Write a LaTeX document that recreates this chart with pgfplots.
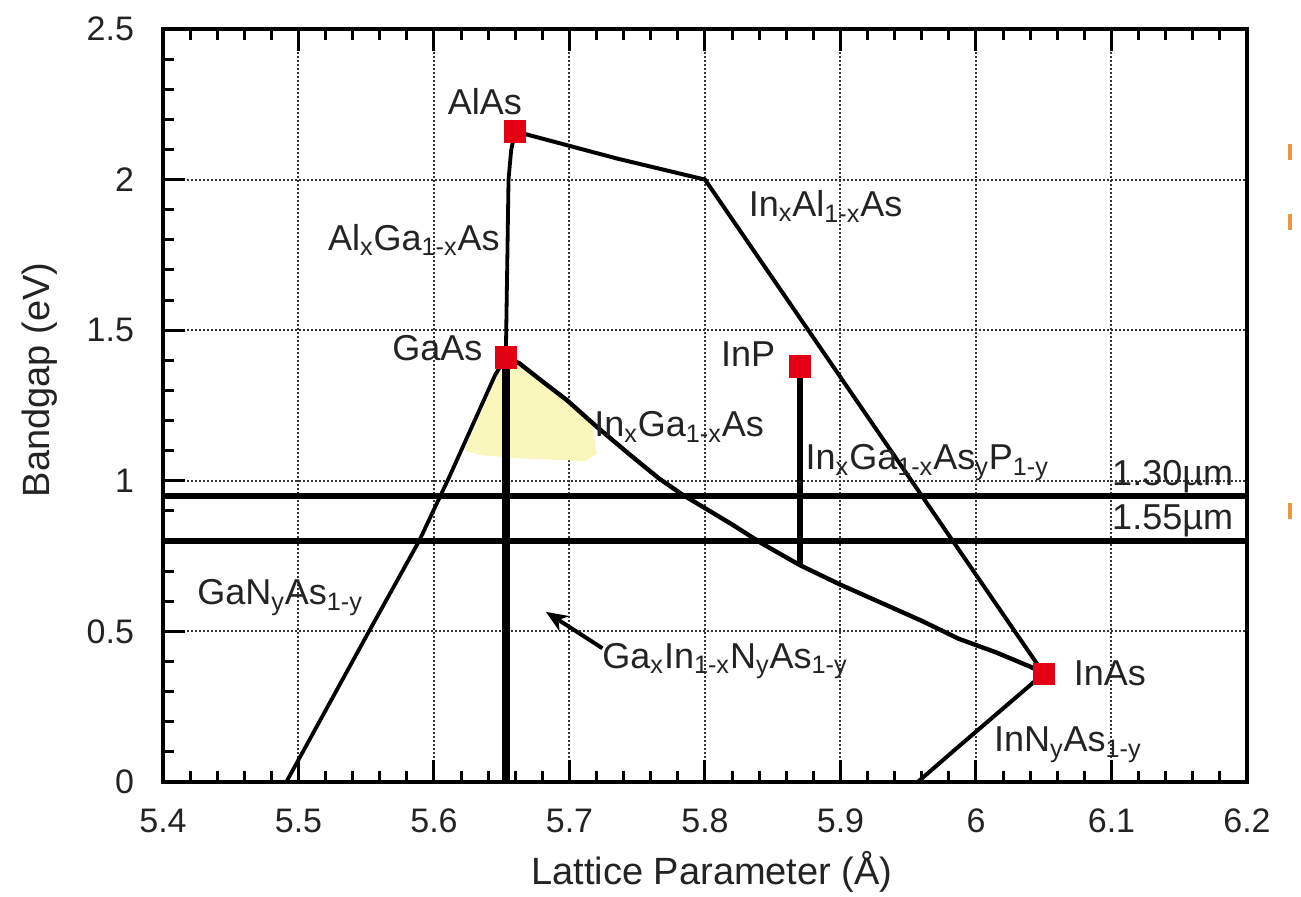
\documentclass[border=0pt]{standalone}
\usepackage{pgfplots}
\pgfplotsset{compat=1.18}
\usepackage{fontspec}
\setmainfont{Liberation Sans}
\usetikzlibrary{arrows.meta}
\definecolor{sqred}{RGB}{228,0,18}
\definecolor{paleyel}{RGB}{249,247,188}
\definecolor{txt}{RGB}{35,35,35}
\definecolor{orng}{RGB}{235,150,60}
\newcommand{\ann}{\fontsize{18}{21}\selectfont\color{txt}}
\begin{document}
\begin{tikzpicture}
\path[use as bounding box] (-81.5pt,-57pt) rectangle (569pt,391pt);
\begin{axis}[
  at={(0,0)}, anchor=south west,
  scale only axis, width=542pt, height=376.5pt,
  xmin=5.4, xmax=6.2, ymin=0, ymax=2.5,
  clip=false,
  xtick={5.4,5.5,5.6,5.7,5.8,5.9,6,6.1,6.2},
  ytick={0,0.5,1,1.5,2,2.5},
  minor x tick num=4, minor y tick num=4,
  xtick pos=both, ytick pos=left,
  tick align=inside,
  major tick length=11pt, minor tick length=5.5pt,
  tick style={line width=1.5pt, black},
  axis line style={line width=2.2pt},
  grid=major,
  major grid style={dash pattern=on 1pt off 1pt, line width=1pt, black!80},
  /pgf/number format/assume math mode=true,
  xticklabel style={font=\fontsize{17}{20}\selectfont, text=txt, yshift=-10pt},
  yticklabel style={font=\fontsize{17}{20}\selectfont, text=txt, xshift=-11pt},
  xlabel={Lattice Parameter (Å)},
  ylabel={Bandgap (eV)},
  xlabel style={font=\fontsize{19}{22}\selectfont, text=txt, at={(axis description cs:0.5065,-0.1195)}, anchor=center},
  ylabel style={font=\fontsize{19}{22}\selectfont, text=txt, at={(axis description cs:-0.1135,0.534)}, anchor=center},
]
% yellow region
\addplot[fill=paleyel, draw=none] coordinates {
 (5.653,1.41) (5.648,1.36) (5.625,1.13) (5.623,1.10) (5.635,1.085) (5.66,1.075)
 (5.69,1.07) (5.712,1.065) (5.72,1.09) (5.718,1.15) (5.716,1.20) (5.698,1.268) (5.663,1.39)} -- cycle;
% 1.30 and 1.55 um lines
\addplot[line width=3.3pt] coordinates {(5.4,0.95) (6.2,0.95)};
\addplot[line width=3.3pt] coordinates {(5.4,0.80) (6.2,0.80)};
% GaNAs
\addplot[line width=1.9pt] coordinates {(5.491,0) (5.552,0.5) (5.589,0.80) (5.611,1.01) (5.645,1.35) (5.653,1.41)};
% GaAs vertical
\addplot[line width=4pt] coordinates {(5.653,1.41) (5.653,0)};
% AlGaAs
\addplot[line width=1.9pt] coordinates {(5.66,2.16) (5.657,2.1) (5.655,2.0) (5.654,1.7) (5.653,1.41)};
% InAlAs
\addplot[line width=2pt] coordinates {(5.66,2.16) (5.735,2.07) (5.8,2.0) (6.05,0.36)};
% InGaAs
\addplot[line width=2.2pt] coordinates {(5.653,1.41) (5.663,1.39) (5.68,1.33) (5.698,1.268) (5.72,1.18)
 (5.745,1.085) (5.766,1.008) (5.783,0.955) (5.796,0.92) (5.82,0.855) (5.842,0.792) (5.87,0.72)
 (5.90,0.655) (5.93,0.595) (5.96,0.535) (5.987,0.476) (6.015,0.43) (6.04,0.383) (6.05,0.36)};
% InGaAsP vertical
\addplot[line width=3.3pt] coordinates {(5.87,1.38) (5.87,0.72)};
% InNAs
\addplot[line width=2pt] coordinates {(6.05,0.36) (5.987,0.117) (5.957,0)};
% arrow
\draw[line width=2pt, -{Stealth[length=11pt,width=9pt]}] (axis cs:5.7243,0.444) -- (axis cs:5.6826,0.565);
% binary compounds
\addplot[only marks, mark=square*, mark size=5.3pt, mark options={draw=sqred, fill=sqred}]
 coordinates {(5.66,2.16) (5.653,1.41) (5.87,1.38) (6.05,0.36)};
% faint orange marks outside the frame (slide residue)
\addplot[only marks, mark=|, mark size=4pt, mark options={line width=2pt, draw=orng}]
 coordinates {(6.232,2.09) (6.232,1.86) (6.232,0.90)};
% labels
\node[anchor=base west, font=\ann, inner sep=0pt] at (axis cs:5.610,2.215) {AlAs};
\node[anchor=base west, font=\ann, inner sep=0pt] at (axis cs:5.5215,1.766) {Al\textsubscript{x}Ga\textsubscript{1-x}As};
\node[anchor=base east, font=\ann, inner sep=0pt] at (axis cs:5.636,1.40) {GaAs};
\node[anchor=base east, font=\ann, inner sep=0pt] at (axis cs:5.852,1.378) {InP};
\node[anchor=base west, font=\ann, inner sep=0pt] at (axis cs:5.832,1.877) {In\textsubscript{x}Al\textsubscript{1-x}As};
\node[anchor=base west, font=\ann, inner sep=0pt] at (axis cs:5.718,1.146) {In\textsubscript{x}Ga\textsubscript{1-x}As};
\node[anchor=base west, font=\ann, inner sep=0pt] at (axis cs:5.874,1.036) {In\textsubscript{x}Ga\textsubscript{1-x}As\textsubscript{y}P\textsubscript{1-y}};
\node[anchor=base east, font=\ann, inner sep=0pt] at (axis cs:6.19,0.983) {1.30µm};
\node[anchor=base east, font=\ann, inner sep=0pt] at (axis cs:6.19,0.838) {1.55µm};
\node[anchor=base west, font=\ann, inner sep=0pt] at (axis cs:5.425,0.588) {GaN\textsubscript{y}As\textsubscript{1-y}};
\node[anchor=base west, font=\ann, inner sep=0pt] at (axis cs:5.724,0.378) {Ga\textsubscript{x}In\textsubscript{1-x}N\textsubscript{y}As\textsubscript{1-y}};
\node[anchor=base west, font=\ann, inner sep=0pt] at (axis cs:6.072,0.322) {InAs};
\node[anchor=base west, font=\ann, inner sep=0pt] at (axis cs:6.013,0.10) {InN\textsubscript{y}As\textsubscript{1-y}};
\end{axis}
\end{tikzpicture}
\end{document}
